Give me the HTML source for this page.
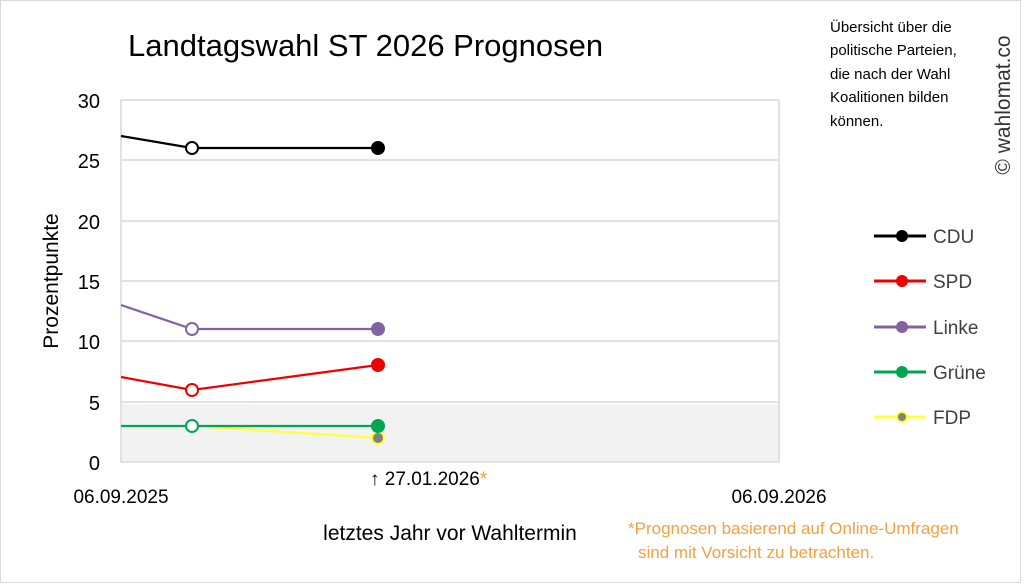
<!DOCTYPE html>
<html><head><meta charset="utf-8"><style>
body{margin:0;background:#fff;}
svg{display:block;font-family:"Liberation Sans",sans-serif;}
</style></head><body>
<svg width="1024" height="584" viewBox="0 0 1024 584">
<rect x="0.5" y="0.5" width="1020" height="582" fill="#fff" stroke="#d9d9d9"/>
<rect x="121" y="404" width="658" height="58" fill="#f2f2f2"/>
<g stroke="#d9d9d9" stroke-width="1.5">
<line x1="121" y1="100" x2="779" y2="100"/>
<line x1="121" y1="160" x2="779" y2="160"/>
<line x1="121" y1="221" x2="779" y2="221"/>
<line x1="121" y1="281" x2="779" y2="281"/>
<line x1="121" y1="341" x2="779" y2="341"/>
<line x1="121" y1="402" x2="779" y2="402"/>
<line x1="121" y1="462" x2="779" y2="462"/>
<line x1="121" y1="100" x2="121" y2="462"/>
<line x1="779" y1="100" x2="779" y2="462"/>
</g>
<text x="128" y="56" font-size="31" fill="#000">Landtagswahl ST 2026 Prognosen</text>
<g font-size="20" fill="#000" text-anchor="end">
<text x="100" y="108">30</text><text x="100" y="168">25</text><text x="100" y="229">20</text>
<text x="100" y="289">15</text><text x="100" y="349">10</text><text x="100" y="410">5</text><text x="100" y="470">0</text>
</g>
<text transform="translate(58,281) rotate(-90)" font-size="21" text-anchor="middle">Prozentpunkte</text>
<text x="121" y="503" font-size="19" text-anchor="middle">06.09.2025</text>
<text x="779" y="503" font-size="19" text-anchor="middle">06.09.2026</text>
<text x="370" y="485" font-size="19">↑ 27.01.2026<tspan fill="#f4a040">*</tspan></text>
<text x="450" y="540" font-size="21" text-anchor="middle">letztes Jahr vor Wahltermin</text>
<text x="628" y="534" font-size="17" fill="#f4a040">*Prognosen basierend auf Online-Umfragen</text>
<text x="638" y="558" font-size="17" fill="#f4a040">sind mit Vorsicht zu betrachten.</text>
<g font-size="15" fill="#000">
<text x="830" y="32">Übersicht über die</text>
<text x="830" y="55">politische Parteien,</text>
<text x="830" y="79">die nach der Wahl</text>
<text x="830" y="102">Koalitionen bilden</text>
<text x="830" y="126">können.</text>
</g>
<text transform="translate(1010,105) rotate(-90)" font-size="21" fill="#333" text-anchor="middle">© wahlomat.co</text>
<g stroke-width="2.2" fill="none">
<polyline points="121,136 192,148 378,148" stroke="#000"/>
<polyline points="121,305 192,329 378,329" stroke="#8064a2"/>
<polyline points="121,377 192,390 378,365" stroke="#e00"/>
<polyline points="192,426 378,438" stroke="#ffff40"/>
<polyline points="121,426 192,426 378,426" stroke="#00a550"/>
</g>
<g stroke-width="2">
<circle cx="192" cy="148" r="6" fill="#fff" stroke="#000"/>
<circle cx="192" cy="329" r="6" fill="#fff" stroke="#8064a2"/>
<circle cx="192" cy="390" r="6" fill="#fff" stroke="#e00"/>
<circle cx="192" cy="426" r="6" fill="#fff" stroke="#00a550"/>
<circle cx="378" cy="148" r="7" fill="#000" stroke="none"/>
<circle cx="378" cy="329" r="7" fill="#8064a2" stroke="none"/>
<circle cx="378" cy="365" r="7" fill="#e00" stroke="none"/>
<circle cx="378" cy="438" r="6" fill="#808080" stroke="#ffff40"/>
<circle cx="378" cy="426" r="7" fill="#00a550" stroke="none"/>
</g>
<g stroke-width="3">
<line x1="874" y1="236" x2="926" y2="236" stroke="#000"/><circle cx="902" cy="236" r="6" fill="#000"/>
<line x1="874" y1="281" x2="926" y2="281" stroke="#e00"/><circle cx="902" cy="281" r="6" fill="#e00"/>
<line x1="874" y1="327" x2="926" y2="327" stroke="#8064a2"/><circle cx="902" cy="327" r="6" fill="#8064a2"/>
<line x1="874" y1="372" x2="926" y2="372" stroke="#00a550"/><circle cx="902" cy="372" r="6" fill="#00a550"/>
<line x1="874" y1="417" x2="926" y2="417" stroke="#ffff40"/><circle cx="902" cy="417" r="5" fill="#808080" stroke="#ffff40" stroke-width="2"/>
</g>
<g font-size="19" fill="#404040">
<text x="933" y="243">CDU</text><text x="933" y="288">SPD</text><text x="933" y="334">Linke</text>
<text x="933" y="379">Grüne</text><text x="933" y="424">FDP</text>
</g>
</svg>
</body></html>
